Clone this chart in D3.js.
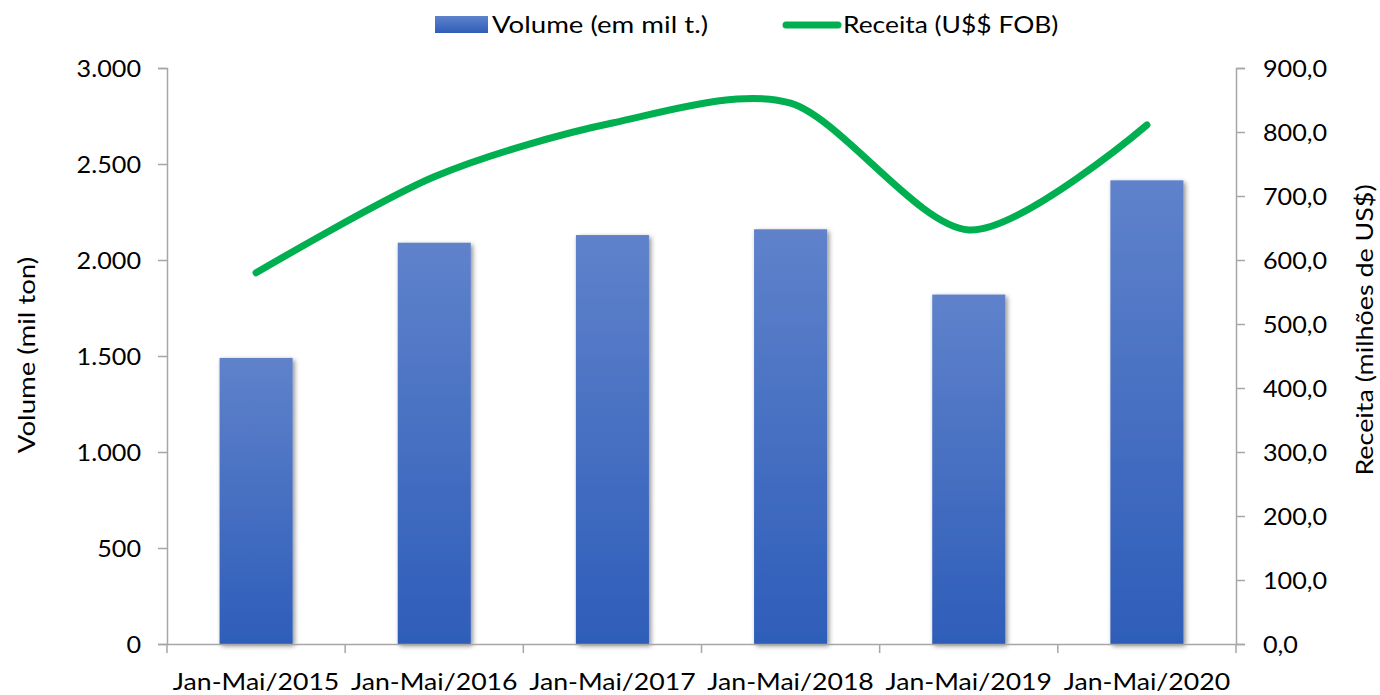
<!DOCTYPE html>
<html><head><meta charset="utf-8">
<script src="https://cdn.jsdelivr.net/npm/d3@7"></script>
<style>
html,body{margin:0;padding:0;background:#fff;}
svg text{font-family:Lato,"Open Sans",sans-serif;fill:#000;}
</style></head>
<body><svg id="c" width="1380" height="695"></svg>
<script>
const categories = ["Jan-Mai/2015","Jan-Mai/2016","Jan-Mai/2017","Jan-Mai/2018","Jan-Mai/2019","Jan-Mai/2020"];
const volume = [1490, 2090, 2130, 2160, 1820, 2415];
const receita = [580, 730, 814, 845, 647, 811];
const leftTicks = [0, 500, 1000, 1500, 2000, 2500, 3000];
const rightTicks = [0, 100, 200, 300, 400, 500, 600, 700, 800, 900];
const legendLabels = ["Volume (em mil t.)", "Receita (U$$ FOB)"];
const axisTitles = ["Volume (mil ton)", "Receita (milhões de US$)"];

const svg = d3.select("#c");
const L = 167, R = 1236, T = 68, B = 644;
const fs = 24;
const SX = 1.15, SXC = 1.11, SXT = 1.05;
const axisColor = "#a6a6a6";

function stretchAxisText(sel, s) {
  sel.each(function() {
    const t = d3.select(this);
    const x = +t.attr("x") || 0;
    t.attr("transform", `translate(${x},0) scale(${s},1) translate(${-x},0)`);
  });
}

const defs = svg.append("defs");
["bg","lg"].forEach(id => {
  const g = defs.append("linearGradient").attr("id",id).attr("x1",0).attr("y1",0).attr("x2",0).attr("y2",1);
  g.append("stop").attr("offset","0%").attr("stop-color","#5f82cb");
  g.append("stop").attr("offset","100%").attr("stop-color","#2e5db9");
});
const f = defs.append("filter").attr("id","sh").attr("x","-20%").attr("y","-5%").attr("width","150%").attr("height","115%");
f.append("feGaussianBlur").attr("in","SourceAlpha").attr("stdDeviation",2.5).attr("result","b");
f.append("feOffset").attr("in","b").attr("dx",2).attr("dy",2).attr("result","o");
f.append("feComponentTransfer").attr("in","o").attr("result","o2").append("feFuncA").attr("type","linear").attr("slope",0.45);
const m = f.append("feMerge"); m.append("feMergeNode").attr("in","o2"); m.append("feMergeNode").attr("in","SourceGraphic");

const x = d3.scaleBand().domain(categories).range([L, R]).paddingInner(0.59).paddingOuter(0.295);
const xb = d3.scaleBand().domain(categories).range([L, R]);
const yL = d3.scaleLinear().domain([0, 3000]).range([B, T]);
const yR = d3.scaleLinear().domain([0, 900]).range([B, T]);

// bars
svg.append("g").selectAll("rect").data(volume).join("rect")
  .attr("x", (d,i) => x(categories[i]))
  .attr("width", x.bandwidth())
  .attr("y", d => yL(d))
  .attr("height", d => B - yL(d))
  .attr("fill","url(#bg)")
  .attr("filter","url(#sh)");

// axes
const fmtL = d => d3.format(",")(d).replace(/,/g, ".");
const fmtR = d => d3.format(".1f")(d).replace(".", ",");

const gL = svg.append("g").attr("transform",`translate(${L},0)`)
  .call(d3.axisLeft(yL).tickValues(leftTicks).tickFormat(fmtL).tickSizeOuter(0).tickSize(9).tickPadding(17));
const gR = svg.append("g").attr("transform",`translate(${R},0)`)
  .call(d3.axisRight(yR).tickValues(rightTicks).tickFormat(fmtR).tickSizeOuter(0).tickSize(9).tickPadding(18));
const gB = svg.append("g").attr("transform",`translate(0,${B})`)
  .call(d3.axisBottom(xb).tickSize(0).tickSizeOuter(0).tickPadding(38));
svg.append("g").selectAll("line").data(d3.range(categories.length + 1)).join("line")
  .attr("x1", i => L + i * xb.step()).attr("x2", i => L + i * xb.step())
  .attr("y1", B).attr("y2", B + 9)
  .attr("stroke", axisColor).attr("stroke-width", 1.5);

[gL, gR, gB].forEach(g => {
  g.selectAll("path").attr("stroke", axisColor).attr("stroke-width", 1.5);
  g.selectAll("line").attr("stroke", axisColor).attr("stroke-width", 1.5);
  g.selectAll("text").attr("font-size", fs).attr("font-family","Lato,sans-serif").attr("fill","#000").attr("dy","0.35em");
});
stretchAxisText(gL.selectAll("text"), SXT);
stretchAxisText(gR.selectAll("text"), SXT);
stretchAxisText(gB.selectAll("text"), SXC);

// line
const line = d3.line()
  .x((d,i) => xb(categories[i]) + xb.bandwidth()/2)
  .y(d => yR(d))
  .curve(d3.curveCardinal.tension(0.15));
svg.append("path").datum(receita).attr("d", line)
  .attr("fill","none").attr("stroke","#00b050").attr("stroke-width",7)
  .attr("stroke-linecap","round").attr("stroke-linejoin","round");

// axis titles
svg.append("text").attr("transform",`translate(35,355) rotate(-90) scale(${SX},1)`)
  .attr("text-anchor","middle").attr("font-size",fs).text(axisTitles[0]);
svg.append("text").attr("transform",`translate(1373,330) rotate(-90) scale(1.12,1)`)
  .attr("text-anchor","middle").attr("font-size",fs).text(axisTitles[1]);

// legend
svg.append("rect").attr("x",435).attr("y",16).attr("width",53).attr("height",17).attr("fill","url(#lg)");
svg.append("text").attr("transform",`translate(492,25) scale(${SX},1)`).attr("dy","0.35em").attr("font-size",fs).text(legendLabels[0]);
svg.append("line").attr("x1",786).attr("x2",838).attr("y1",25).attr("y2",25)
  .attr("stroke","#00b050").attr("stroke-width",7).attr("stroke-linecap","round");
svg.append("text").attr("transform",`translate(843,25) scale(1.1,1)`).attr("dy","0.35em").attr("font-size",fs).text(legendLabels[1]);
</script></body></html>
